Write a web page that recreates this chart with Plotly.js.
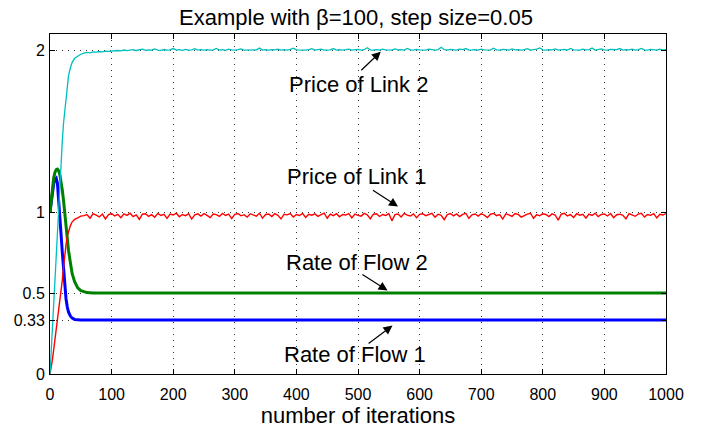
<!DOCTYPE html>
<html>
<head>
<meta charset="utf-8">
<script src="https://cdn.plot.ly/plotly-3.0.1.min.js"></script>
<style>html,body{margin:0;padding:0;background:#fff;}#chart{width:715px;height:431px;}</style>
</head>
<body>
<div id="chart"></div>
<script>
// ---- data ----
var xTransient = [0,2,4,6,8,10,12,14,16,18,20,22,24,26,28,30,33,36,40,45,50];

var flow1Iter = [0,2,4,6,8,10,12,14,16,18,20,22,24,26,28,30,33,36,40,45,50,55,60,70,80,90,100,150,200,250,300,350,400,450,500,550,600,650,700,750,800,850,900,950,1000];
var flow1Rate = [1.0,1.07,1.13,1.175,1.203,1.21,1.18,1.09,0.98,0.86,0.75,0.64,0.545,0.465,0.415,0.383,0.358,0.345,0.337,0.334,0.333,0.333,0.333,0.333,0.333,0.333,0.333,0.333,0.333,0.333,0.333,0.333,0.333,0.333,0.333,0.333,0.333,0.333,0.333,0.333,0.333,0.333,0.333,0.333,0.333];

var flow2Iter = flow1Iter;
var flow2Rate = [1.0,1.085,1.155,1.21,1.245,1.262,1.265,1.255,1.23,1.19,1.135,1.07,0.985,0.91,0.83,0.765,0.69,0.62,0.57,0.532,0.515,0.507,0.503,0.501,0.5,0.5,0.5,0.5,0.5,0.5,0.5,0.5,0.5,0.5,0.5,0.5,0.5,0.5,0.5,0.5,0.5,0.5,0.5,0.5,0.5];

var link1Start = [0.0,0.04,0.09,0.15,0.21,0.27,0.32,0.38,0.44,0.51,0.58,0.66,0.74,0.80,0.85,0.88,0.915,0.94,0.955,0.965,0.975];
var link1Steady = [
0.978,0.985,0.962,0.990,0.981,0.970,0.988,0.958,0.984,0.991,
0.976,0.986,0.965,0.989,0.980,0.993,0.972,0.983,0.955,0.987,
0.990,0.974,0.984,0.968,0.992,0.979,0.986,0.961,0.988,0.982,
0.993,0.971,0.985,0.978,0.990,0.957,0.983,0.989,0.975,0.991,
0.980,0.966,0.988,0.984,0.973,0.992,0.979,0.987,0.960,0.986,
0.991,0.977,0.984,0.969,0.990,0.982,0.975,0.993,0.963,0.985,
0.988,0.972,0.990,0.980,0.958,0.987,0.983,0.991,0.970,0.985,
0.979,0.992,0.967,0.986,0.981,0.989,0.974,0.984,0.993,0.962,
0.987,0.978,0.990,0.971,0.985,0.982,0.991,0.964,0.988,0.980,
0.975,0.992,0.983,0.959,0.987,0.990,0.973,0.985,0.979,0.991,
0.946,0.984,0.988,0.970,0.992,0.981,0.976,0.989,0.965,0.986,
0.990,0.978,0.984,0.992,0.968,0.987,0.980,0.953,0.985,0.991,
0.977,0.989,0.972,0.986,0.993,0.962,0.983,0.988,0.975,0.990,
0.981,0.966,0.987,0.992,0.978,0.985,0.957,0.989,0.983,0.974,
0.991,0.986,0.969,0.980,0.988,0.993,0.961,0.984,0.977,0.990,
0.985,0.972,0.989,0.982,0.950,0.987,0.992,0.976,0.984,0.967,
0.990,0.981,0.986,0.963,0.988,0.979,0.993,0.972,0.985,0.989,
0.976,0.991,0.965,0.984,0.987,0.980,0.958,0.990,0.983,0.974,
0.988,0.992,0.969,0.985,0.980,0.990,0.964,0.987,0.982,0.991];

var link2Start = [0.0,0.15,0.30,0.44,0.59,0.74,0.89,1.04,1.18,1.32,1.44,1.55,1.63,1.71,1.78,1.84,1.89,1.925,1.95,1.965,1.975];
var link2Steady = [
1.982,1.986,1.984,1.989,1.988,1.992,1.990,1.994,1.993,1.996,
1.995,1.998,1.996,2.001,1.997,1.999,2.003,1.998,2.000,2.006,
1.999,2.002,2.000,2.008,2.001,1.999,2.004,2.000,2.002,2.010,
2.001,2.003,1.999,2.005,2.001,2.002,2.009,2.000,2.003,2.001,
2.004,2.000,2.002,2.011,2.001,2.003,1.999,2.006,2.002,2.000,
2.003,2.008,2.001,2.002,2.000,2.005,2.002,2.013,2.001,2.003,
2.000,2.004,2.002,2.007,2.001,2.003,2.000,2.005,2.012,2.002,
2.001,2.004,2.000,2.003,2.009,2.001,2.002,2.006,2.000,2.003,
2.002,2.010,2.001,2.004,2.000,2.003,2.007,2.001,2.002,2.005,
2.001,2.003,2.015,2.002,2.000,2.004,2.001,2.006,2.002,2.003,
2.000,2.008,2.002,2.003,2.001,2.011,2.002,2.000,2.005,2.002,
2.003,2.001,2.007,2.002,2.000,2.004,2.018,2.003,2.001,2.005,
2.002,2.000,2.006,2.003,2.010,2.001,2.002,2.004,2.000,2.007,
2.002,2.003,2.001,2.012,2.002,2.000,2.005,2.003,2.001,2.008,
2.002,2.004,2.000,2.003,2.009,2.001,2.002,2.006,2.014,2.002,
2.001,2.004,2.002,2.008,2.000,2.003,2.005,2.001,2.011,2.002,
2.003,2.000,2.006,2.002,2.004,2.013,2.001,2.003,2.008,2.002,
2.000,2.005,2.002,2.003,2.010,2.001,2.004,2.002,2.007,2.001,
2.003,2.011,2.002,2.000,2.005,2.003,2.001,2.006,2.002,2.003];

var xTickVals = [0,100,200,300,400,500,600,700,800,900,1000];
var yTickVals = [0,0.33,0.5,1,2];
var yTickText = ['0','0.33','0.5','1','2'];
var labels = ['Price of Link 2','Price of Link 1','Rate of Flow 2','Rate of Flow 1'];

// iteration indices of the steady part (every 5th iteration)
var steadyIter = [];
for (var i = 55; i <= 1000; i += 5) steadyIter.push(i);
var priceIter = xTransient.concat(steadyIter);
var link1Price = link1Start.concat(link1Steady);
var link2Price = link2Start.concat(link2Steady);

var FONT = '"Liberation Sans", Arial, Helvetica, sans-serif';

var traces = [
  {x: flow1Iter, y: flow1Rate, mode: 'lines', line: {color: '#0000FF', width: 3}, name: 'Rate of Flow 1'},
  {x: flow2Iter, y: flow2Rate, mode: 'lines', line: {color: '#008000', width: 3}, name: 'Rate of Flow 2'},
  {x: priceIter, y: link1Price, mode: 'lines', line: {color: '#FF0000', width: 1.4}, name: 'Price of Link 1'},
  {x: priceIter, y: link2Price, mode: 'lines', line: {color: '#00BFBF', width: 1.3}, name: 'Price of Link 2'}
];

var textPos = [[501, 1.791], [498, 1.218], [499, 0.690], [495.5, 0.123]];
var arrowPos = [[537, 1.991, -21, 20], [565, 1.034, -26.6, -17.4], [548, 0.515, -26.7, -17], [556, 0.299, -25.4, 19]];

var annotations = [];
for (var k = 0; k < labels.length; k++) {
  annotations.push({x: textPos[k][0], y: textPos[k][1], xref: 'x', yref: 'y', text: labels[k], showarrow: false,
    xanchor: 'center', yanchor: 'middle', font: {family: FONT, size: 22, color: '#000'}});
  annotations.push({x: arrowPos[k][0], y: arrowPos[k][1], xref: 'x', yref: 'y', text: '', showarrow: true,
    ax: arrowPos[k][2], ay: arrowPos[k][3], arrowhead: 2, arrowsize: 1.5, arrowwidth: 1.2, arrowcolor: '#000', standoff: 0, startstandoff: 0});
}

var axisCommon = {
  showline: true, linecolor: '#000', linewidth: 1, mirror: 'allticks',
  ticks: 'inside', ticklen: 5, tickcolor: '#000', tickwidth: 1,
  showgrid: true, gridcolor: '#333', gridwidth: 1, griddash: '1px,5px',
  zeroline: false, tickfont: {family: FONT, size: 16, color: '#000'}
};

var layout = {
  width: 715, height: 431,
  margin: {l: 50, r: 49, t: 34, b: 57, pad: 0},
  paper_bgcolor: '#fff', plot_bgcolor: '#fff',
  showlegend: false,
  font: {family: FONT, color: '#000'},
  title: {text: 'Example with β=100, step size=0.05', font: {family: FONT, size: 22, color: '#000'},
    x: 356/715, xanchor: 'center', xref: 'container', y: 1 - 17/431, yanchor: 'middle', yref: 'container'},
  xaxis: Object.assign({}, axisCommon, {range: [0, 1000], tickvals: xTickVals, ticklabelstandoff: 6,
    title: {text: 'number of iterations', font: {family: FONT, size: 22, color: '#000'}, standoff: 0}}),
  yaxis: Object.assign({}, axisCommon, {range: [0, 2.1], tickvals: yTickVals, ticktext: yTickText, ticklabelstandoff: 1}),
  annotations: annotations
};

Plotly.newPlot('chart', traces, layout, {displayModeBar: false, staticPlot: true});
</script>
</body>
</html>
